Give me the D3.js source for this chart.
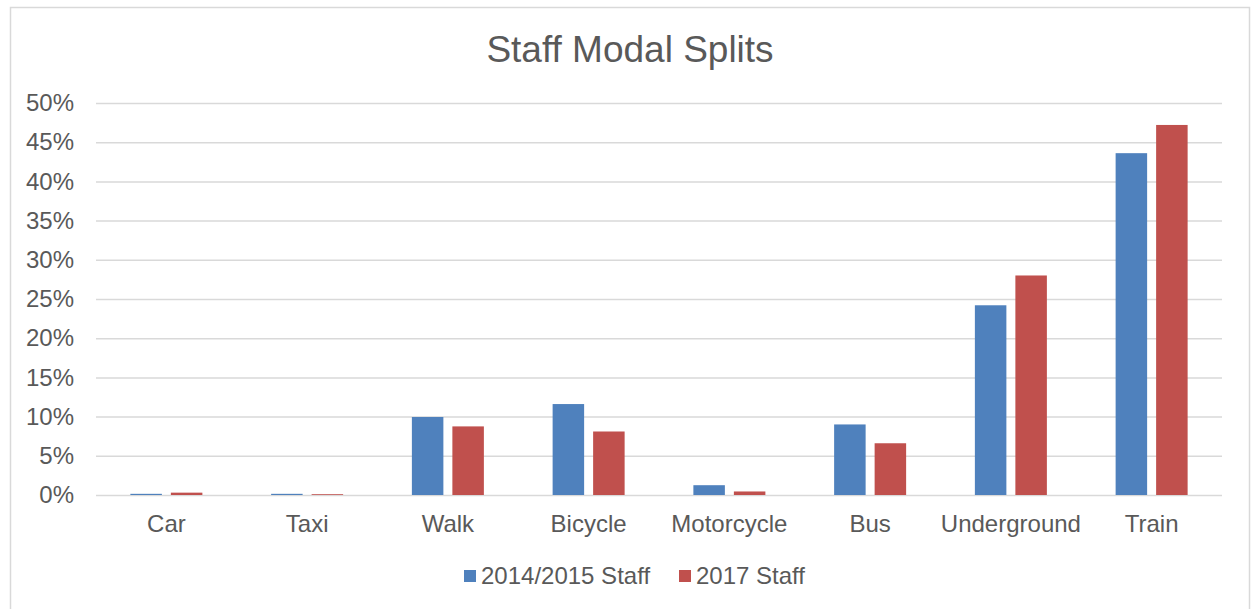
<!DOCTYPE html>
<html lang="en">
<head>
<meta charset="UTF-8">
<title>Staff Modal Splits</title>
<script src="https://d3js.org/d3.v7.min.js"></script>
<style>
  body { margin: 0; background: #fff; }
  text { font-family: "Liberation Sans", Arial, sans-serif; fill: #595959; }
</style>
</head>
<body>
<script>
// ---- data ----
var categories = ["Car", "Taxi", "Walk", "Bicycle", "Motorcycle", "Bus", "Underground", "Train"];
var seriesNames = ["2014/2015 Staff", "2017 Staff"];
var staff2014 = [0.15, 0.15, 9.95, 11.6, 1.25, 9.0, 24.2, 43.6];
var staff2017 = [0.3, 0.1, 8.75, 8.1, 0.45, 6.6, 28.0, 47.2];
var yTicks = [0, 5, 10, 15, 20, 25, 30, 35, 40, 45, 50];
var colors = ["#4f81bd", "#c0504d"];

// ---- canvas ----
var w = 1257, h = 609;
var margin = { top: 103, left: 96, right: 35, bottom: 114 };
var width = w - margin.left - margin.right;
var height = h - margin.top - margin.bottom;

var svg = d3.select("body").append("svg")
    .attr("width", w)
    .attr("height", h);

// outer border
svg.append("rect")
    .attr("x", 10.5).attr("y", 7.5)
    .attr("width", 1239).attr("height", 620)
    .attr("fill", "none")
    .attr("stroke", "#d9d9d9")
    .attr("stroke-width", 1.5);

svg.append("text")
    .attr("x", 630).attr("y", 62)
    .attr("text-anchor", "middle")
    .style("font-size", "37px")
    .text("Staff Modal Splits");

var chart = svg.append("g")
    .attr("transform", "translate(" + margin.left + "," + margin.top + ")");

// ---- scales ----
var x = d3.scaleBand().domain(categories).range([0, width]);
var y = d3.scaleLinear().domain([0, 50]).range([height, 0]);

// gridlines
var yGrid = d3.axisLeft(y).tickValues(yTicks).tickSize(-width).tickFormat("");
chart.append("g").call(yGrid)
    .call(function(g) { g.select(".domain").remove(); })
    .selectAll("line")
    .attr("stroke", "#d9d9d9")
    .attr("stroke-width", 1.5);

// y axis labels
var yAxis = d3.axisLeft(y).tickValues(yTicks).tickSize(0).tickPadding(22)
    .tickFormat(function(d) { return d + "%"; });
chart.append("g").call(yAxis)
    .call(function(g) { g.select(".domain").remove(); })
    .selectAll("text")
    .style("font-size", "24px")
    .style("font-family", "'Liberation Sans', Arial, sans-serif")
    .attr("fill", "#595959");

// x axis labels
var xAxis = d3.axisBottom(x).tickSize(0).tickPadding(20);
chart.append("g")
    .attr("transform", "translate(0," + height + ")")
    .call(xAxis)
    .call(function(g) { g.select(".domain").remove(); })
    .selectAll("text")
    .style("font-size", "24px")
    .style("font-family", "'Liberation Sans', Arial, sans-serif")
    .attr("fill", "#595959");

// ---- bars ----
var barW = 31.5, gap = 9;
var sub = d3.scaleOrdinal().domain([0, 1]).range([-gap / 2 - barW, gap / 2]);
[staff2014, staff2017].forEach(function(vals, s) {
    chart.append("g")
        .selectAll("rect")
        .data(vals)
        .enter()
        .append("rect")
        .attr("x", function(d, i) { return x(categories[i]) + x.bandwidth() / 2 + sub(s); })
        .attr("y", function(d) { return y(d); })
        .attr("width", barW)
        .attr("height", function(d) { return height - y(d); })
        .attr("fill", colors[s]);
});

// ---- legend ----
var legendX = [464, 679];
var legend = svg.append("g");
seriesNames.forEach(function(name, i) {
    legend.append("rect")
        .attr("x", legendX[i]).attr("y", 570)
        .attr("width", 12).attr("height", 12)
        .attr("fill", colors[i]);
    legend.append("text")
        .attr("x", legendX[i] + 17).attr("y", 584)
        .style("font-size", "24px")
        .text(name);
});
</script>
</body>
</html>
